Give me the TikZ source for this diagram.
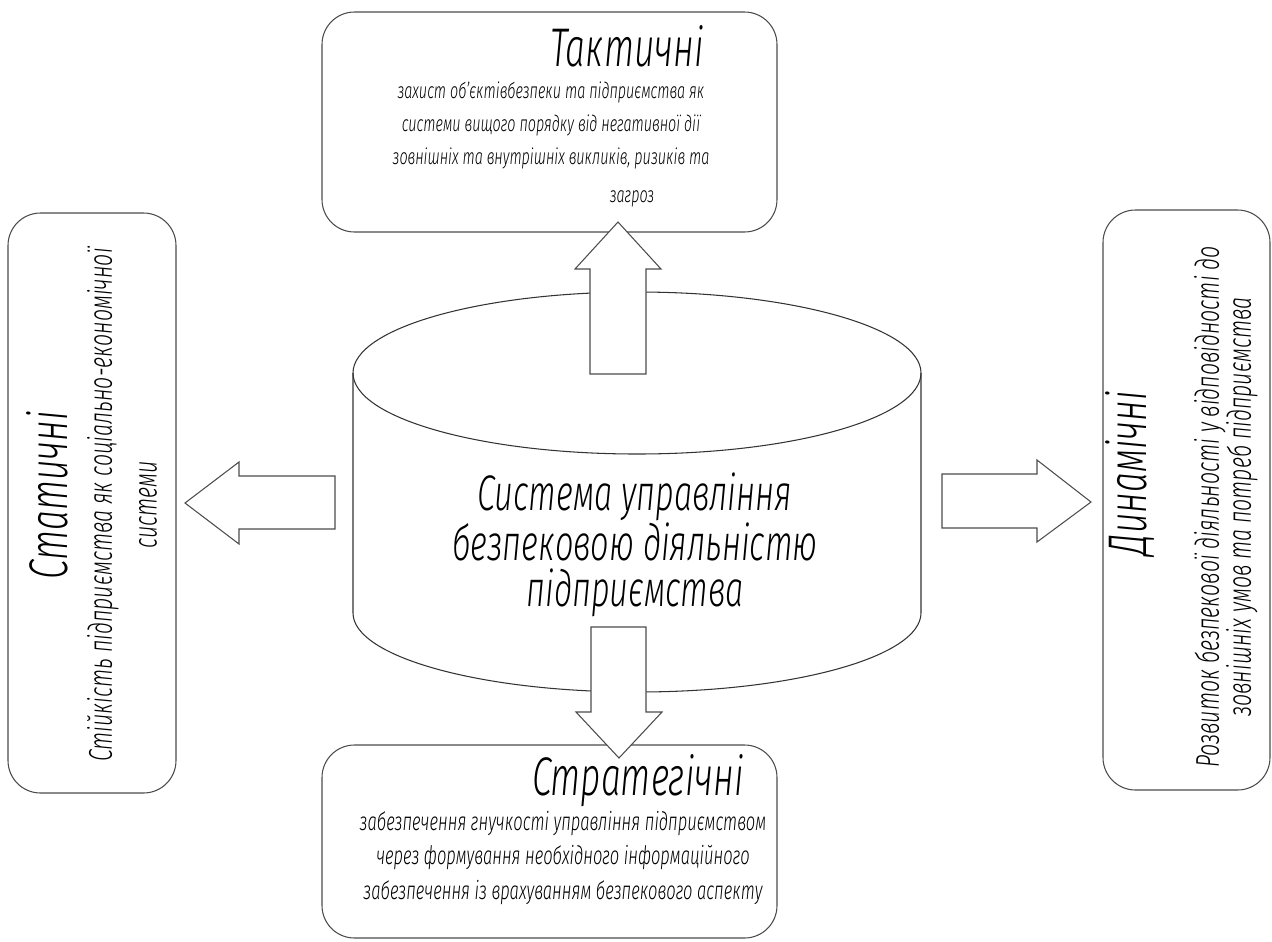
\documentclass[tikz,border=0pt]{standalone}
\usepackage{fontspec}
\setmainfont{Fira Sans}[UprightFont={* Light Italic},FakeStretch=0.65]

\begin{document}
\begin{tikzpicture}[x=0.02cm,y=-0.02cm,
    box/.style={draw=black!70,line width=0.6pt,rounded corners=0.65cm},
    cyl/.style={draw=black!80,line width=0.6pt},
    blockarrow/.style={draw=black!70,line width=0.6pt,fill=white,line join=miter},
    title/.style={inner sep=0pt,font=\fontsize{31}{34}\selectfont},
    centre/.style={inner sep=0pt,align=center,font=\fontsize{28.5}{26.5}\selectfont},
    body/.style={inner sep=0pt,align=center,font=\fontsize{12.6}{18.8}\selectfont},
    sidebody/.style={inner sep=0pt,align=center,font=\fontsize{18.7}{18.2}\selectfont}]

  \useasboundingbox (0,0) rectangle (1272,941);

  % the four boxes
  \draw[box] (322,12) rectangle (777,232);
  \draw[box] (322,745) rectangle (777,938);
  \draw[box] (8,213) rectangle (176,793);
  \draw[box] (1103,210) rectangle (1270,790);

  % the cylinder in the middle
  \draw[cyl] (637,373) ellipse [x radius=284, y radius=81];
  \draw[cyl] (353,373) -- (353,613) arc[start angle=180, end angle=0, x radius=284, y radius=79] -- (921,373);

  % block arrows out of the cylinder
  \draw[blockarrow] (590,374) -- (590,269) -- (575,269) -- (618,222) -- (661,269) -- (646,269) -- (646,374) -- cycle;
  \draw[blockarrow] (591,627) -- (646,627) -- (646,712) -- (662,712) -- (619,758) -- (576,712) -- (591,712) -- cycle;
  \draw[blockarrow] (335,476) -- (239,476) -- (239,462) -- (185,503) -- (239,544) -- (239,529) -- (335,529) -- cycle;
  \draw[blockarrow] (942,474) -- (1037,474) -- (1037,460) -- (1091,502) -- (1037,542) -- (1037,528) -- (942,528) -- cycle;

  % texts
  \node[centre] (sys) at (635,545) {Система управління\\безпековою діяльністю\\підприємства};

  \node[title] (taktTitle) at (627,46) {Тактичні};
  \node[body] (taktText) at (551,125) {захист об’єктівбезпеки та підприємства як\\системи вищого порядку від негативної дії\\зовнішніх та внутрішніх викликів, ризиків та};
  \node[body] (taktLast) at (632,199) {загроз};

  \node[title] (stratTitle) at (638,781) {Стратегічні};
  \node[body,font=\fontsize{14.5}{19.6}\selectfont] (stratText) at (563,858) {забезпечення гнучкості управління підприємством\\через формування необхідного інформаційного\\забезпечення із врахуванням безпекового аспекту};

  \node[title,rotate=90] (statTitle) at (47,495) {Статичні};
  \node[sidebody,rotate=90,font=\fontsize{18.7}{25.6}\selectfont] (statText) at (122,505) {Стійкість підприємства як соціально-економічної\\системи};

  \node[title,rotate=90] (dynTitle) at (1130,473) {Динамічні};
  \node[sidebody,rotate=90] (dynText) at (1226,507) {Розвиток безпекової діяльності у відповідності до\\зовнішніх умов та потреб підприємства};
\end{tikzpicture}
\end{document}
